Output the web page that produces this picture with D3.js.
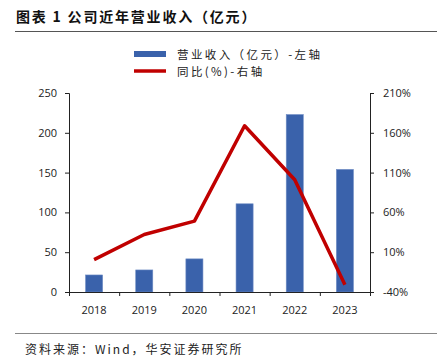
<!DOCTYPE html>
<html lang="zh">
<head>
<meta charset="utf-8">
<title>公司近年营业收入</title>
<script src="https://d3js.org/d3.v7.min.js"></script>
<style>
  body { margin: 0; background: #fff; }
  svg { display: block; font-family: "Open Sans", "Noto Sans CJK SC", sans-serif; }
</style>
</head>
<body>
<script type="text/javascript">
    var years = ["2018", "2019", "2020", "2021", "2022", "2023"];
    var revenue = [21.4, 27.7, 41.6, 110.8, 222.9, 154];
    var growth = [0.7, 32.3, 49, 168.8, 101, -30.8];
    var leftTicks = [0, 50, 100, 150, 200, 250];
    var rightTicks = [-40, 10, 60, 110, 160, 210];

    var w = 437, h = 362;
    var margin = {left: 69, right: 67, top: 93, bottom: 70};
    var plotW = w - margin.left - margin.right;
    var plotH = h - margin.top - margin.bottom;

    var svg = d3.select("body").append("svg")
        .attr("width", w)
        .attr("height", h);

    // title + rules
    svg.append("text")
        .attr("x", 16).attr("y", 22)
        .attr("font-family", "'Noto Sans CJK SC', sans-serif")
        .attr("font-weight", "bold")
        .attr("font-size", 14)
        .attr("letter-spacing", 1.8)
        .attr("fill", "#111")
        .text("图表 1 公司近年营业收入（亿元）");
    svg.append("line")
        .attr("x1", 15).attr("x2", 437).attr("y1", 31.5).attr("y2", 31.5)
        .attr("stroke", "#555").attr("stroke-width", 1);
    svg.append("line")
        .attr("x1", 15).attr("x2", 437).attr("y1", 333.5).attr("y2", 333.5)
        .attr("stroke", "#888").attr("stroke-width", 1);
    svg.append("text")
        .attr("x", 25).attr("y", 354)
        .attr("font-family", "'Noto Sans CJK SC', sans-serif")
        .attr("font-size", 12)
        .attr("letter-spacing", 2)
        .attr("fill", "#222")
        .text("资料来源：Wind，华安证券研究所");

    var g = svg.append("g")
        .attr("transform", "translate(" + margin.left + "," + margin.top + ")");

    var x = d3.scaleBand().domain(years).range([0, plotW]).paddingInner(0.66).paddingOuter(0.33);
    var yL = d3.scaleLinear().domain([0, 250]).range([plotH, 0]);
    var yR = d3.scaleLinear().domain([-40, 210]).range([plotH, 0]);

    // bars
    g.selectAll("rect.bar")
        .data(revenue)
        .enter()
        .append("rect")
        .attr("class", "bar")
        .attr("x", function(d, i) { return x(years[i]); })
        .attr("y", function(d) { return yL(d); })
        .attr("width", x.bandwidth())
        .attr("height", function(d) { return plotH - yL(d); })
        .attr("fill", "#3A62AB")
        .attr("stroke", "#6E8CC4")
        .attr("stroke-width", 0.6);

    // line
    var line = d3.line()
        .x(function(d, i) { return x(years[i]) + x.bandwidth() / 2; })
        .y(function(d) { return yR(d); });
    g.append("path")
        .datum(growth)
        .attr("d", line)
        .attr("fill", "none")
        .attr("stroke", "#C00000")
        .attr("stroke-width", 3.5)
        .attr("stroke-linejoin", "round");

    // axes
    var axisL = d3.axisLeft(yL).tickValues(leftTicks).tickSize(4).tickPadding(8);
    var axisR = d3.axisRight(yR).tickValues(rightTicks).tickSize(4).tickPadding(9)
        .tickFormat(function(d) { return d + "%"; });
    var boundaries = d3.scaleLinear().domain([0, years.length]).range([0, plotW]);
    var axisB = d3.axisBottom(boundaries).tickValues(d3.range(0, years.length + 1))
        .tickSize(4).tickFormat("");

    function style(sel) {
        sel.select(".domain").attr("stroke", "#222");
        sel.selectAll(".tick line").attr("stroke", "#222");
        sel.selectAll("text").attr("font-size", 11).attr("fill", "#222")
            .attr("font-family", "'Open Sans', sans-serif");
    }

    g.append("g").call(axisL).call(style);
    g.append("g").attr("transform", "translate(" + plotW + ",0)").call(axisR).call(style);
    g.append("g").attr("transform", "translate(0," + plotH + ")").call(axisB).call(style);

    g.selectAll("text.xlab")
        .data(years)
        .enter()
        .append("text")
        .attr("class", "xlab")
        .attr("x", function(d) { return x(d) + x.bandwidth() / 2; })
        .attr("y", plotH + 22)
        .attr("text-anchor", "middle")
        .attr("font-size", 11)
        .attr("fill", "#222")
        .attr("font-family", "'Open Sans', sans-serif")
        .text(function(d) { return d; });

    // legend
    var leg = svg.append("g").attr("transform", "translate(134,0)");
    leg.append("rect")
        .attr("x", 0).attr("y", 51).attr("width", 32).attr("height", 6)
        .attr("fill", "#3A62AB");
    leg.append("line")
        .attr("x1", 0).attr("x2", 32).attr("y1", 71).attr("y2", 71)
        .attr("stroke", "#C00000").attr("stroke-width", 3.5);
    leg.selectAll("text")
        .data(["营业收入（亿元）-左轴", "同比(%)-右轴"])
        .enter()
        .append("text")
        .attr("x", 43)
        .attr("y", function(d, i) { return 58.5 + i * 17; })
        .attr("font-size", 11.5)
        .attr("letter-spacing", 2.4)
        .attr("fill", "#222")
        .attr("font-family", "'Noto Sans CJK SC', sans-serif")
        .text(function(d) { return d; });
</script>
</body>
</html>
